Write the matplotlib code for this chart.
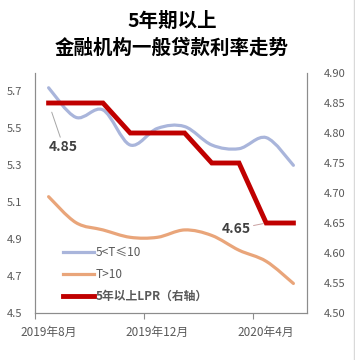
import numpy as np
import matplotlib
matplotlib.use("Agg")
import matplotlib.pyplot as plt
from matplotlib.path import Path
from matplotlib.patches import PathPatch
from matplotlib.lines import Line2D

plt.rcParams['font.family'] = ['Noto Sans CJK SC', 'DejaVu Sans']

# ---- dados ----
meses = ["2019年8月", "2019年9月", "2019年10月", "2019年11月", "2019年12月",
         "2020年1月", "2020年2月", "2020年3月", "2020年4月", "2020年5月"]
taxa_5_10 = [5.72, 5.56, 5.60, 5.41, 5.50, 5.51, 5.41, 5.39, 5.45, 5.30]
taxa_10 = [5.13, 4.99, 4.95, 4.91, 4.91, 4.95, 4.92, 4.84, 4.78, 4.66]
lpr_5 = [4.85, 4.85, 4.85, 4.80, 4.80, 4.80, 4.75, 4.75, 4.65, 4.65]
rotulos_x = ["2019年8月", "2019年12月", "2020年4月"]

azul = "#A9B5DB"
laranja = "#E9A57A"
vermelho = "#C00000"
cinza = "#595959"


def caminho_suave(xs, ys):
    # curva suavizada (Catmull-Rom -> Bezier), estilo "linha suave" do Excel
    pts = np.column_stack([xs, ys]).astype(float)
    n = len(pts)
    verts = [pts[0]]
    codes = [Path.MOVETO]
    for i in range(n - 1):
        p0 = pts[i - 1] if i > 0 else pts[i]
        p1 = pts[i]
        p2 = pts[i + 1]
        p3 = pts[i + 2] if i + 2 < n else pts[i + 1]
        c1 = p1 + (p2 - p0) / 6.0
        c2 = p2 - (p3 - p1) / 6.0
        verts += [c1, c2, p2]
        codes += [Path.CURVE4] * 3
    return Path(verts, codes)


x = np.arange(len(meses))

fig = plt.figure(figsize=(3.55, 3.6), dpi=100)
ax = fig.add_axes([35 / 355, 1 - 313 / 360, 272 / 355, 240 / 360])
ax2 = ax.twinx()

ax.add_patch(PathPatch(caminho_suave(x, taxa_5_10), fill=False, edgecolor=azul,
                       lw=2.3, capstyle='round', zorder=2))
ax.add_patch(PathPatch(caminho_suave(x, taxa_10), fill=False, edgecolor=laranja,
                       lw=2.3, capstyle='round', zorder=2))
ax2.plot(x, lpr_5, color=vermelho, lw=3.5, solid_joinstyle='miter', zorder=3)

ax.set_xlim(-0.5, len(meses) - 0.5)
ax.set_ylim(4.5, 5.8)
ax2.set_ylim(4.5, 4.9)

ax.set_yticks(np.arange(4.5, 5.75, 0.2))
ax.set_yticklabels([f"{v:.1f}" for v in np.arange(4.5, 5.75, 0.2)])
ax2.set_yticks(np.arange(4.5, 4.91, 0.05))
ax2.set_yticklabels([f"{v:.2f}" for v in np.arange(4.5, 4.91, 0.05)])

ax.set_xticks([-0.5, 3.5, 7.5])
ax.set_xticklabels([])
ax.set_xticks([0, 4, 8], minor=True)
ax.set_xticklabels(rotulos_x, minor=True)
ax.tick_params(axis='x', which='major', length=4, color="#8C8C8C", width=0.8)
ax.tick_params(axis='x', which='minor', length=0, pad=9, labelsize=8.5, labelcolor=cinza)
ax.tick_params(axis='y', length=0, pad=9, labelsize=8, labelcolor=cinza)
ax2.tick_params(axis='y', length=0, pad=12, labelsize=8, labelcolor=cinza)

for a in (ax, ax2):
    a.spines['top'].set_visible(False)
    for s in ('left', 'right', 'bottom'):
        a.spines[s].set_color("#8C8C8C")
        a.spines[s].set_linewidth(0.8)

# anotações
ax2.annotate("4.85", xy=(0, lpr_5[0]), xytext=(15, -44), textcoords='offset pixels',
             ha='center', va='center', fontsize=10, fontweight='bold', color="#404040",
             arrowprops=dict(arrowstyle='-', color="#A6A6A6", lw=0.7, shrinkA=0, shrinkB=7))
ax2.annotate("4.65", xy=(8, lpr_5[8]), xytext=(-30, -6), textcoords='offset pixels',
             ha='center', va='center', fontsize=10, fontweight='bold', color="#404040",
             arrowprops=dict(arrowstyle='-', color="#C9A0A0", lw=0.7, shrinkA=12, shrinkB=2))

# legenda
alcas = [Line2D([], [], color=azul, lw=2.3),
         Line2D([], [], color=laranja, lw=2.3),
         Line2D([], [], color=vermelho, lw=3.5)]
nomes = ["5<T≤10", "T>10", "5年以上LPR（右轴）"]
leg = ax2.legend(alcas, nomes, loc='upper left', bbox_to_anchor=(63 / 355, 1 - 246 / 360),
                 bbox_transform=fig.transFigure, frameon=False, fontsize=8.5,
                 handlelength=2.6, handletextpad=0.2, labelspacing=0.75,
                 borderpad=0, borderaxespad=0)
for i, t in enumerate(leg.get_texts()):
    t.set_color(cinza)
    if i == 2:
        t.set_fontweight('bold')

# título
fig.text(172 / 355, 1 - 21 / 360, "5年期以上", ha='center', va='center',
         fontsize=14, fontweight='bold', color='black')
fig.text(172 / 355, 1 - 48 / 360, "金融机构一般贷款利率走势", ha='center', va='center',
         fontsize=14, fontweight='bold', color='black')

# borda direita da imagem
fig.add_artist(Line2D([353.5 / 355, 353.5 / 355], [0, 1], color="#D9D9D9", lw=1))

fig.savefig("out.png", dpi=100)
